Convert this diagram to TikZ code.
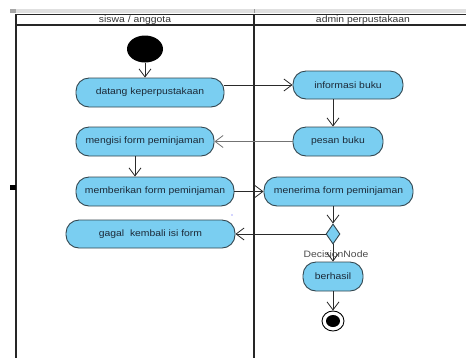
\documentclass[tikz,border=0pt]{standalone}
\usepackage{fontspec}
\newfontfamily\lab{Liberation Sans}[FakeStretch=1.12]
\usetikzlibrary{shapes.geometric,arrows.meta,calc}
\definecolor{actfill}{HTML}{7ACEF1}
\definecolor{actdraw}{HTML}{33464F}
\definecolor{acttext}{HTML}{1C2A38}
\definecolor{flow}{HTML}{2A2A2A}
\tikzset{
  act/.style={draw=actdraw, line width=0.9pt, fill=actfill, rounded corners=13bp,
    text=acttext, font=\lab\fontsize{9.3}{11}\selectfont, inner sep=0pt, anchor=center},
  flowline/.style={draw=flow, line width=0.8pt, -{Straight Barb[length=8bp,width=12bp,line width=0.8pt]}},
  lane/.style={draw=black!85, line width=1.8pt},
  hdr/.style={font=\lab\fontsize{9.3}{11}\selectfont, text=black!80, inner sep=0pt}
}
\begin{document}
\begin{tikzpicture}[x=1bp,y=-1bp]
\useasboundingbox (0,0) rectangle (466,358);
\fill[white] (0,0) rectangle (466,358);
\begin{scope}
\clip (0,0) rectangle (466,358);
% top band
\fill[black!12] (10,9) rectangle (466,13);
\fill[black!35] (10,9) rectangle (16,13);
\draw[black!40, line width=0.6pt] (254,9) -- (254,13);
% swimlanes
\draw[lane] (16,14.5) -- (472,14.5);
\draw[lane] (16,25) -- (472,25);
\draw[lane] (16,14) -- (16,358);
\draw[lane] (254,14) -- (254,358);
\fill[black] (10,185) rectangle (16,190);
\fill[blue!70] (232,215) circle (0.7);
\end{scope}
\node[hdr] (h1) at (135,20) {siswa / anggota};
\node[hdr] (h2) at (363,20) {admin perpustakaan};

% nodes
\node[ellipse, fill=black, minimum width=36bp, minimum height=27bp, inner sep=0pt] (start) at (145,49) {};
\node[act, minimum width=148bp, minimum height=29bp] (datang) at (150,92.5) {datang keperpustakaan};
\node[act, minimum width=110bp, minimum height=28bp] (info) at (348,85) {informasi buku};
\node[act, minimum width=90bp, minimum height=29bp] (pesan) at (338,141.5) {pesan buku};
\node[act, minimum width=138bp, minimum height=29bp] (mengisi) at (145,141.5) {mengisi form peminjaman};
\node[act, minimum width=158bp, minimum height=29bp] (memberi) at (155,191.5) {memberikan form peminjaman};
\node[act, minimum width=149bp, minimum height=29bp] (menerima) at (338.5,191.5) {menerima form peminjaman};
\node[diamond, draw=actdraw, line width=0.9pt, fill=actfill, minimum width=14bp, minimum height=20bp, inner sep=0pt, aspect=0.7] (dec) at (333,234) {};
\node[act, minimum width=169bp, minimum height=28bp] (gagal) at (150.5,234) {gagal\ \ kembali isi form};
\node[act, minimum width=60bp, minimum height=29bp] (berhasil) at (333,276.5) {berhasil};
\node[ellipse, draw=black, line width=0.9pt, fill=white, minimum width=22bp, minimum height=20bp, inner sep=0pt] (end) at (333,321) {};
\node[ellipse, fill=black, minimum width=14bp, minimum height=12bp, inner sep=0pt] (endin) at (end.center) {};

% connectors
\draw[flowline] (start.south) -- (start |- datang.north);
\draw[flowline] (datang.east |- info) -- (info.west);
\draw[flowline] (dec |- info.south) -- (dec |- pesan.north);
\draw[flowline, draw=black!55] (pesan.west) -- (mengisi.east);
\coordinate (mx) at ($(mengisi.south)+(-10,0)$);
\draw[flowline] (mx) -- (mx |- memberi.north);
\draw[flowline] (memberi.east) -- (menerima.west);
\draw[flowline] (dec |- menerima.south) -- (dec.north);
\draw[flowline] (dec.west) -- (gagal.east);
\draw[flowline] (dec.south) -- (berhasil.north);
\draw[flowline] (berhasil.south) -- (end.north);
\node[font=\lab\fontsize{9.3}{11}\selectfont, text=black!70, inner sep=0pt] (declab) at (336,254) {DecisionNode};
\end{tikzpicture}
\end{document}
